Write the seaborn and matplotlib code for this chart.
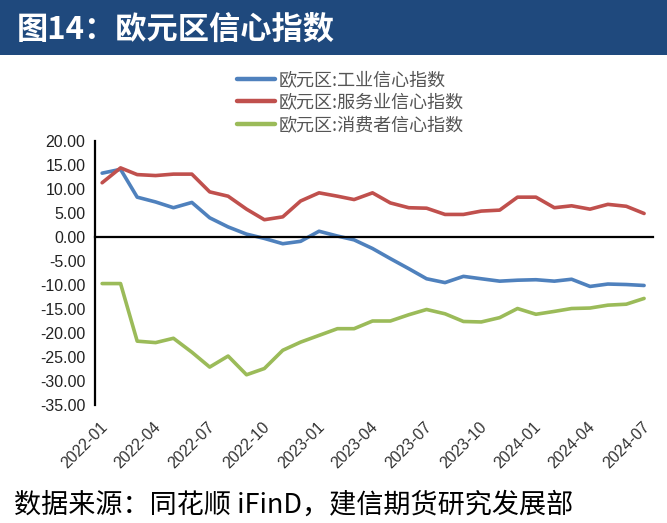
import numpy as np
import pandas as pd
import matplotlib
matplotlib.use('Agg')
import matplotlib.pyplot as plt
import matplotlib.dates as mdates
import matplotlib.transforms as mtransforms
import seaborn as sns
from matplotlib.patches import Rectangle

# 数据，2022-01 ~ 2024-07
months = pd.date_range('2022-01-01', periods=31, freq='MS')
industry = [13.3, 14.1, 8.3, 7.3, 6.1, 7.2, 4.0, 2.1, 0.6, -0.3, -1.4, -0.9,
            1.2, 0.2, -0.6, -2.4, -4.5, -6.6, -8.7, -9.5, -8.2, -8.7, -9.2, -9.0,
            -8.9, -9.2, -8.8, -10.3, -9.8, -9.9, -10.1]
services = [11.3, 14.4, 13.0, 12.8, 13.1, 13.1, 9.4, 8.5, 5.8, 3.6, 4.2, 7.5,
            9.2, 8.5, 7.8, 9.2, 7.1, 6.1, 6.0, 4.7, 4.7, 5.4, 5.6, 8.3,
            8.3, 6.1, 6.5, 5.8, 6.8, 6.4, 4.9]
consumer = [-9.7, -9.7, -21.7, -22.0, -21.1, -24.0, -27.1, -24.8, -28.7, -27.4, -23.6, -21.9,
            -20.5, -19.1, -19.1, -17.5, -17.5, -16.2, -15.1, -16.0, -17.6, -17.7, -16.8, -14.9,
            -16.1, -15.5, -14.9, -14.8, -14.2, -14.0, -12.8]
series_names = ['欧元区:工业信心指数', '欧元区:服务业信心指数', '欧元区:消费者信心指数']
tick_months = pd.date_range('2022-01-01', '2024-07-01', freq='3MS')
tick_labels = [d.strftime('%Y-%m') for d in tick_months]

dates = months + pd.Timedelta(days=12)
df = pd.DataFrame({'date': np.tile(dates, 3),
                   'value': industry + services + consumer,
                   'series': np.repeat(series_names, len(months))})

sns.set_style('white')
plt.rcParams['font.family'] = ['Liberation Sans', 'Noto Sans CJK SC', 'DejaVu Sans']
cjk = ['Noto Sans CJK SC', 'DejaVu Sans']

fig = plt.figure(figsize=(6.67, 5.23), dpi=100)
ax = fig.add_axes([95 / 667, 1 - 405 / 523, 558 / 667, 264 / 523])

palette = {series_names[0]: '#4F81BD', series_names[1]: '#C0504D', series_names[2]: '#9BBB59'}
sns.lineplot(data=df, x='date', y='value', hue='series', palette=palette,
             linewidth=2.6, ax=ax, legend=False)

ax.set_xlim(pd.Timestamp('2022-01-01'), pd.Timestamp('2024-07-28'))
ax.set_ylim(-35, 20)
ax.set_yticks(np.arange(-35, 21, 5))
ax.set_yticklabels(['%.2f' % v for v in np.arange(-35, 21, 5)])
ax.set_xlabel('')
ax.set_ylabel('')

for s in ['top', 'right']:
    ax.spines[s].set_visible(False)
ax.spines['left'].set_color('black')
ax.spines['left'].set_linewidth(1.6)
ax.spines['bottom'].set_position(('data', 0))
ax.spines['bottom'].set_color('black')
ax.spines['bottom'].set_linewidth(1.6)
ax.set_xticks(tick_months)
ax.tick_params(axis='x', direction='out', length=6, width=1.6, color='black', labelbottom=False)
ax.tick_params(axis='y', direction='out', length=5, width=1.6, color='black',
               labelsize=11.5, labelcolor='#222222', pad=2)

# x轴标签放在底部
sec = ax.secondary_xaxis('bottom')
sec.spines['bottom'].set_visible(False)
sec.set_xticks(mdates.date2num(tick_months))
sec.set_xticklabels(tick_labels)
sec.tick_params(axis='x', length=0, pad=14, labelsize=11.5, labelcolor='#333333')
offset = mtransforms.ScaledTranslation(10 / 100, 0, fig.dpi_scale_trans)
for lab in sec.get_xticklabels():
    lab.set_rotation(45)
    lab.set_ha('right')
    lab.set_va('center')
    lab.set_rotation_mode('anchor')
    lab.set_transform(lab.get_transform() + offset)

# 图例
handles = [plt.Line2D([], [], color=palette[n], linewidth=3.2) for n in series_names]
fig.legend(handles, series_names, loc='upper left', bbox_to_anchor=(237 / 667, 1 - 71 / 523),
           frameon=False, prop={'family': cjk, 'size': 13}, labelcolor='#555555',
           handlelength=2.1, handletextpad=0.2, labelspacing=0.25, borderpad=0, borderaxespad=0)

# 标题栏
fig.patches.append(Rectangle((0, 1 - 55 / 523), 1, 55 / 523, transform=fig.transFigure,
                             facecolor='#1F497D', edgecolor='none', zorder=0))
fig.text(17 / 667, 1 - 30 / 523, '图14：欧元区信心指数', color='white', fontsize=22.5,
         fontweight='bold', family=cjk, va='center', ha='left')

fig.text(14 / 667, 1 - 505 / 523, '数据来源：同花顺 iFinD，建信期货研究发展部', color='black',
         fontsize=19.5, family=cjk, va='center', ha='left', style='italic')

plt.savefig('out.png', dpi=100)
